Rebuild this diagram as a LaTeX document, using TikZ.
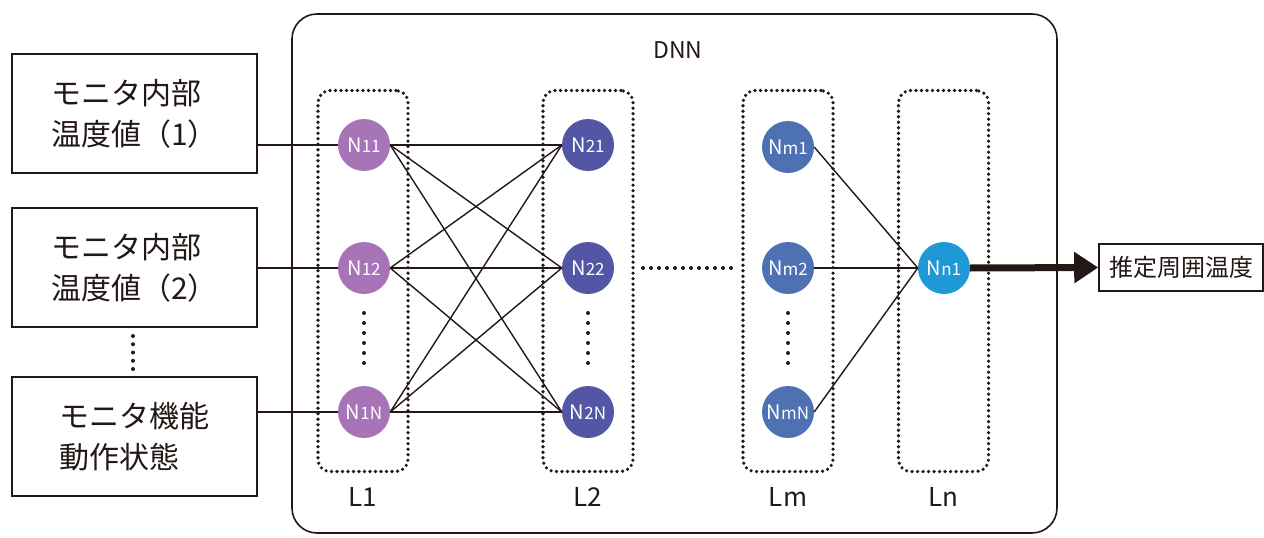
\documentclass[tikz,border=0pt]{standalone}
\usepackage{fontspec}
\setmainfont{Noto Sans CJK JP}
\usetikzlibrary{arrows.meta}
\definecolor{ink}{HTML}{231815}
\definecolor{cA}{HTML}{A874B8}
\definecolor{cB}{HTML}{5355A5}
\definecolor{cM}{HTML}{4D71B2}
\definecolor{cN}{HTML}{1F98D6}
\tikzset{
  inbox/.style={draw=ink, line width=1.6pt, minimum width=245pt, minimum height=119pt, align=left, font=\fontsize{30}{41}\selectfont, text=ink, inner sep=0pt},
  neuron/.style={circle, minimum size=52pt, inner sep=0pt, text=white, font=\fontsize{20}{20}\selectfont},
  layerbox/.style={draw=ink, line width=3.6pt, dash pattern=on 0pt off 5.5pt, line cap=round, rounded corners=12pt, minimum width=90pt, minimum height=381pt, inner sep=0pt},
  link/.style={draw=ink, line width=1.4pt},
  vdots/.style={draw=ink, line width=4pt, dash pattern=on 0pt off 10pt, line cap=round},
  hdots/.style={draw=ink, line width=4pt, dash pattern=on 0pt off 8pt, line cap=round},
  lab/.style={text=ink, font=\fontsize{26}{26}\selectfont},
}
\newcommand{\nlab}[1]{N{\fontsize{17}{17}\selectfont #1}}
\begin{document}
\begin{tikzpicture}[x=1pt,y=-1pt]
\useasboundingbox (0,0) rectangle (1264,538);
% DNN frame
\node[draw=ink, line width=1.6pt, rounded corners=25pt, minimum width=765pt, minimum height=519pt, inner sep=0pt] (dnn) at (674.5,273.5) {};
\node[lab, font=\fontsize{23}{23}\selectfont] (dnnlab) at (678,50) {DNN};
% layer boxes
\node[layerbox] (L1) at (363,281) {};
\node[layerbox] (L2) at (588,281) {};
\node[layerbox] (Lm) at (788,281) {};
\node[layerbox] (Ln) at (943.5,281) {};
\node[lab] (l1t) at (363,497) {L1};
\node[lab] (l2t) at (588,497) {L2};
\node[lab] (lmt) at (788,497) {Lm};
\node[lab] (lnt) at (943.5,497) {Ln};
% inputs
\node[inbox] (in1) at (134.5,113.5) {モニタ内部\\温度値（1）};
\node[inbox] (in2) at (134.5,267.5) {モニタ内部\\温度値（2）};
\node[inbox] (in3) at (134.5,436.5) {モニタ機能\\動作状態};
\coordinate (d1) at (133,336);
\coordinate (d2) at (133,369);
\draw[vdots, dash pattern=on 0pt off 8.25pt] (d1) -- (d2);
% neurons
\node[neuron, fill=cA] (n11) at (364,145) {\nlab{11}};
\node[neuron, fill=cA] (n12) at (364,268) {\nlab{12}};
\node[neuron, fill=cA] (n1N) at (364,412) {\nlab{1N}};
\node[neuron, fill=cB] (n21) at (588,145) {\nlab{21}};
\node[neuron, fill=cB] (n22) at (588,268) {\nlab{22}};
\node[neuron, fill=cB] (n2N) at (588,412) {\nlab{2N}};
\node[neuron, fill=cM] (nm1) at (788,147) {\nlab{m1}};
\node[neuron, fill=cM] (nm2) at (788,268) {\nlab{m2}};
\node[neuron, fill=cM] (nmN) at (788,412) {\nlab{mN}};
\node[neuron, fill=cN] (nn1) at (944,268) {\nlab{n1}};
% vertical dots
\coordinate (a1) at (364,313); \coordinate (a2) at (364,364);
\coordinate (b1) at (588,313); \coordinate (b2) at (588,364);
\coordinate (c1) at (788,313); \coordinate (c2) at (788,364);
\draw[vdots] (a1) -- (a2);
\draw[vdots] (b1) -- (b2);
\draw[vdots] (c1) -- (c2);
% horizontal dots
\coordinate (h1) at (643,268); \coordinate (h2) at (735,268);
\draw[hdots] (h1) -- (h2);
% input links
\draw[link] (in1.east |- n11.west) -- (n11.west);
\draw[link] (in2.east |- n12.west) -- (n12.west);
\draw[link] (in3.east |- n1N.west) -- (n1N.west);
% L1 -> L2
\foreach \s in {n11,n12,n1N}{
  \foreach \t in {n21,n22,n2N}{
    \draw[link] (\s.east) -- (\t.west);
  }
}
% Lm -> Ln
\foreach \s in {nm1,nm2,nmN}{
  \draw[link] (\s.east) -- (nn1.west);
}
% output
\node[draw=ink, line width=1.6pt, minimum width=164pt, minimum height=47pt, inner sep=0pt, text=ink, font=\fontsize{24}{24}\selectfont] (out) at (1181,267.5) {推定周囲温度};
\draw[draw=ink, line width=7pt, -{Triangle[length=24pt,width=30pt]}] (nn1.east) -- (out.west);
\end{tikzpicture}
\end{document}
